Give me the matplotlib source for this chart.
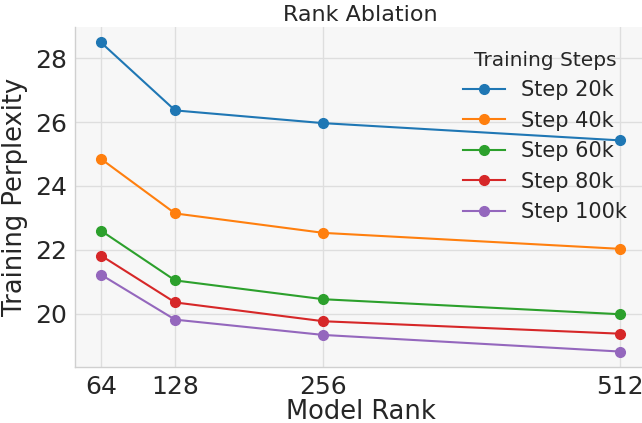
import matplotlib
matplotlib.use("Agg")
import matplotlib.pyplot as plt

ranks = [64, 128, 256, 512]
step_labels = ["Step 20k", "Step 40k", "Step 60k", "Step 80k", "Step 100k"]
step_20k = [28.50, 26.37, 25.97, 25.43]
step_40k = [24.85, 23.14, 22.53, 22.03]
step_60k = [22.60, 21.04, 20.45, 19.98]
step_80k = [21.82, 20.35, 19.76, 19.37]
step_100k = [21.22, 19.81, 19.33, 18.81]
series = [step_20k, step_40k, step_60k, step_80k, step_100k]
colors = ["#1f77b4", "#ff7f0e", "#2ca02c", "#d62728", "#9467bd"]

plt.rcParams["font.family"] = ["DejaVu Sans"]

fig = plt.figure(figsize=(6.42, 4.23), dpi=100)
ax = fig.add_axes([75 / 642, 56 / 423, 571 / 642, 340 / 423])
ax.set_facecolor("#f7f7f7")

for vals, lab, c in zip(series, step_labels, colors):
    ax.plot(ranks, vals, marker="o", markersize=7, linewidth=1.5,
            color=c, label=lab)

ax.set_xticks(ranks)
ax.set_xticklabels([str(r) for r in ranks])
ax.tick_params(axis="both", labelsize=18, length=0, colors="#262626", pad=6)
ax.grid(True, color="#dedede", linewidth=1.0)
ax.set_axisbelow(True)
for side in ["top", "right"]:
    ax.spines[side].set_visible(False)
for side in ["left", "bottom"]:
    ax.spines[side].set_color("#d0d0d0")
    ax.spines[side].set_linewidth(1.0)

ax.set_xlabel("Model Rank", fontsize=18.5, color="#262626", labelpad=0)
ax.set_ylabel("Training Perplexity", fontsize=18.5, color="#262626", labelpad=5)
ax.set_title("Rank Ablation", fontsize=16, color="#262626", pad=4)

leg = ax.legend(title="Training Steps", fontsize=15, title_fontsize=14.5,
                frameon=False, loc="upper right",
                bbox_to_anchor=(1.0, 0.985), handlelength=2.0,
                labelspacing=0.5)
for t in leg.get_texts():
    t.set_color("#262626")
leg.get_title().set_color("#262626")

fig.savefig("out.png", dpi=100)
